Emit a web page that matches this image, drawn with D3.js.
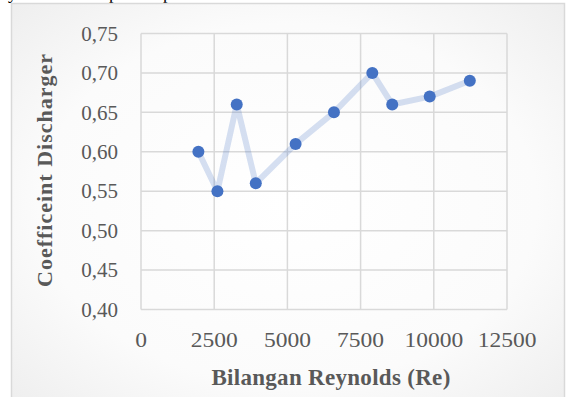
<!DOCTYPE html>
<html><head><meta charset="utf-8">
<script src="https://cdn.jsdelivr.net/npm/d3@7"></script>
<style>html,body{margin:0;padding:0;background:#fff;}svg{display:block;}</style>
</head><body>
<script>
const reynolds = [1960, 2610, 3270, 3920, 5280, 6590, 7900, 8580, 9860, 11230];
const coefDischarge = [0.60, 0.55, 0.66, 0.56, 0.61, 0.65, 0.70, 0.66, 0.67, 0.69];
const xTicks = [0, 2500, 5000, 7500, 10000, 12500];
const yTicks = [0.40, 0.45, 0.50, 0.55, 0.60, 0.65, 0.70, 0.75];
const xTitle = "Bilangan Reynolds (Re)";
const yTitle = "Coefficeint Discharger";

const W = 569, H = 397;
const svg = d3.select("body").append("svg").attr("width", W).attr("height", H);
const defs = svg.append("defs");
const grad = defs.append("radialGradient").attr("id","bg").attr("cx","50%").attr("cy","50%").attr("r","75%");
grad.append("stop").attr("offset","0%").attr("stop-color","#ffffff");
grad.append("stop").attr("offset","60%").attr("stop-color","#fbfbfb");
grad.append("stop").attr("offset","100%").attr("stop-color","#ececec");

// cut-off text line from the page above
svg.append("g").attr("font-family","Liberation Serif").attr("font-size",18).attr("fill","#000")
  .selectAll("text").data([{t:"y",x:8},{t:"p",x:109},{t:"p",x:163}]).join("text")
  .attr("x",d=>d.x).attr("y",-1).text(d=>d.t);

svg.append("rect").attr("x",11.5).attr("y",3.5).attr("width",553).attr("height",400)
  .attr("fill","url(#bg)").attr("stroke","#d9d9d9").attr("stroke-width",1.5);

const x = d3.scaleLinear().domain([0,12500]).range([141,507]);
const y = d3.scaleLinear().domain([0.40,0.75]).range([309.5,33.5]);

const g = svg.append("g");
g.append("g").selectAll("line").data(yTicks).join("line")
  .attr("x1",x(0)).attr("x2",x(12500)).attr("y1",d=>y(d)).attr("y2",d=>y(d))
  .attr("stroke","#d9d9d9").attr("stroke-width",1.5);
g.append("g").selectAll("line").data(xTicks).join("line")
  .attr("y1",y(0.40)).attr("y2",y(0.75)).attr("x1",d=>x(d)).attr("x2",d=>x(d))
  .attr("stroke","#d9d9d9").attr("stroke-width",1.5);

const fmtY = d => d3.format(".2f")(d).replace(".", ",");
g.append("g").selectAll("text").data(yTicks).join("text")
  .attr("x",118).attr("y",d=>y(d)+7.2).attr("text-anchor","end")
  .attr("font-family","Liberation Serif").attr("font-size",21).attr("fill","#595959")
  .text(fmtY);
g.append("g").selectAll("text").data(xTicks).join("text")
  .attr("transform",d=>`translate(${x(d)},347) scale(1.12,1)`).attr("text-anchor","middle")
  .attr("font-family","Liberation Serif").attr("font-size",21).attr("fill","#595959")
  .text(d=>d);

const pts = reynolds.map((r,i)=>[r, coefDischarge[i]]);
g.append("path").datum(pts)
  .attr("d", d3.line().x(d=>x(d[0])).y(d=>y(d[1])))
  .attr("fill","none").attr("stroke","#4472c4").attr("stroke-opacity",0.22)
  .attr("stroke-width",6).attr("stroke-linejoin","round");
g.append("g").selectAll("circle").data(pts).join("circle")
  .attr("cx",d=>x(d[0])).attr("cy",d=>y(d[1])).attr("r",6).attr("fill","#4472c4");

svg.append("text").attr("x",331).attr("y",385).attr("text-anchor","middle")
  .attr("font-family","Liberation Serif").attr("font-size",23).attr("font-weight","bold")
  .attr("fill","#595959").attr("letter-spacing",0.3).text(xTitle);
svg.append("text").attr("transform","translate(52,170) rotate(-90)").attr("text-anchor","middle")
  .attr("font-family","Liberation Serif").attr("font-size",22).attr("font-weight","bold")
  .attr("fill","#595959").attr("letter-spacing",1).text(yTitle);
</script>
</body></html>
